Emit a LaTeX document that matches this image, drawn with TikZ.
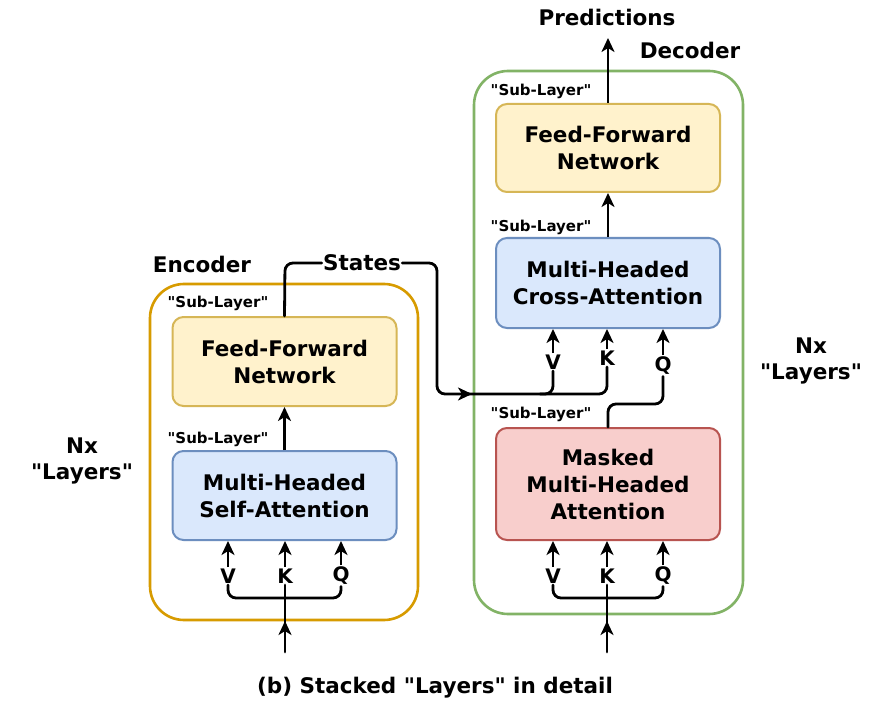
\documentclass[tikz,border=0pt]{standalone}
\usepackage{fontspec}
\setmainfont{DejaVu Sans}
\newfontfamily\dvs{DejaVu Sans}
\usetikzlibrary{arrows.meta}
\definecolor{encO}{HTML}{D79B00}
\definecolor{decG}{HTML}{82B366}
\definecolor{yelF}{HTML}{FFF2CC}
\definecolor{yelD}{HTML}{D6B656}
\definecolor{bluF}{HTML}{DAE8FC}
\definecolor{bluD}{HTML}{6C8EBF}
\definecolor{redF}{HTML}{F8CECC}
\definecolor{redD}{HTML}{B85450}
\begin{document}
\begin{tikzpicture}[x=1pt,y=-1pt,
  box/.style={draw, rounded corners=11pt, line width=2pt, align=center,
    font=\dvs\bfseries\fontsize{21.5}{27}\selectfont, inner sep=0pt, minimum width=224pt},
  outer/.style={line width=2.6pt, rounded corners=34pt},
  lbl/.style={font=\dvs\bfseries\fontsize{21.5}{26}\selectfont, align=center, inner sep=1pt},
  sub/.style={font=\dvs\bfseries\fontsize{15}{17}\selectfont, inner sep=0pt},
  qkv/.style={font=\dvs\bfseries\fontsize{20}{22}\selectfont, fill=white, inner sep=1.5pt},
  ln/.style={line width=2.8pt, line cap=round},
  arr/.style={line width=2.8pt, -{Stealth[length=14pt,width=13pt,inset=4pt]}},
]
\useasboundingbox (0,0) rectangle (869,703);
\fill[white] (0,0) rectangle (869,703);

% ---------- Encoder ----------
\draw[outer, encO] (150,284) rectangle (418,620);
\node[lbl] (enclbl) at (202,264) {Encoder};
\node[box, fill=yelF, draw=yelD, minimum height=89pt] (eff) at (284.5,361.5) {Feed-Forward\\Network};
\node[box, fill=bluF, draw=bluD, minimum height=89pt] (esa) at (284.5,495.5) {Multi-Headed\\Self-Attention};
\node[sub] (esub1) at (218,303) {"Sub-Layer"};
\node[sub] (esub2) at (218,439) {"Sub-Layer"};
\draw[arr] (esa.north) -- (eff.south);

\node[qkv] (eV) at (228,576) {V};
\node[qkv] (eK) at (285,576) {K};
\node[qkv] (eQ) at (341,576) {Q};
\draw[arr] (eV.north) -- (eV.north |- esa.south);
\draw[arr] (eK.north) -- (eK.north |- esa.south);
\draw[arr] (eQ.north) -- (eQ.north |- esa.south);
\draw[ln, rounded corners=8pt] (eV.south) -- (228,598) -- (341,598) -- (eQ.south);
\coordinate (ein) at (285,652);
\draw[ln] (ein) -- (eK.south);
\draw[arr] (ein) -- (285,621);

% ---------- Decoder ----------
\draw[outer, decG] (474,71) rectangle (743,614);
\node[lbl] (declbl) at (690,50) {Decoder};
\node[lbl] (pred) at (607,17) {Predictions};
\node[box, fill=yelF, draw=yelD, minimum height=88pt] (dff) at (608,148) {Feed-Forward\\Network};
\node[box, fill=bluF, draw=bluD, minimum height=90pt] (dca) at (608,283) {Multi-Headed\\Cross-Attention};
\node[box, fill=redF, draw=redD, minimum height=112pt] (dma) at (608,484) {Masked\\Multi-Headed\\Attention};
\node[sub] (dsub1) at (541,91) {"Sub-Layer"};
\node[sub] (dsub2) at (541,227) {"Sub-Layer"};
\node[sub] (dsub3) at (541,414) {"Sub-Layer"};
\coordinate (ptip) at (608,38);
\draw[arr] (dff.north) -- (ptip);
\draw[arr] (dca.north) -- (dff.south);

% cross attention inputs
\node[qkv] (cV) at (553,362) {V};
\node[qkv] (cK) at (607,358) {K};
\node[qkv] (cQ) at (663,366) {Q};
\draw[arr] (cV.north) -- (cV.north |- dca.south);
\draw[arr] (cK.north) -- (cK.north |- dca.south);
\draw[arr] (cQ.north) -- (cQ.north |- dca.south);
\draw[ln, rounded corners=8pt] (dma.north) -- (608,404) -- (663,404) -- (cQ.south);

% masked attention inputs
\node[qkv] (mV) at (553,576) {V};
\node[qkv] (mK) at (607,576) {K};
\node[qkv] (mQ) at (663,576) {Q};
\draw[arr] (mV.north) -- (mV.north |- dma.south);
\draw[arr] (mK.north) -- (mK.north |- dma.south);
\draw[arr] (mQ.north) -- (mQ.north |- dma.south);
\draw[ln, rounded corners=8pt] (mV.south) -- (553,598) -- (663,598) -- (mQ.south);
\coordinate (din) at (607,652);
\draw[ln] (din) -- (mK.south);
\draw[arr] (din) -- (607,621);

% ---------- States connector ----------
\node[lbl, fill=white] (states) at (362,263) {States};
\draw[ln, rounded corners=8pt] (eff.north) -- (285,263) -- (states.west);
\draw[ln, rounded corners=8pt] (states.east) -- (437,263) -- (437,394) -- (607,394) -- (cK.south);
\draw[ln, rounded corners=8pt] (cV.south) -- (553,394) -- (540,394);
\coordinate (stip) at (472,394);
\draw[arr] (445,394) -- (stip);

% ---------- side labels ----------
\node[lbl] (nxl) at (82,461) {Nx\\"Layers"};
\node[lbl] (nxr) at (811,361) {Nx\\"Layers"};
\node[lbl] (cap) at (435,688) {(b) Stacked "Layers" in detail};
\end{tikzpicture}
\end{document}
